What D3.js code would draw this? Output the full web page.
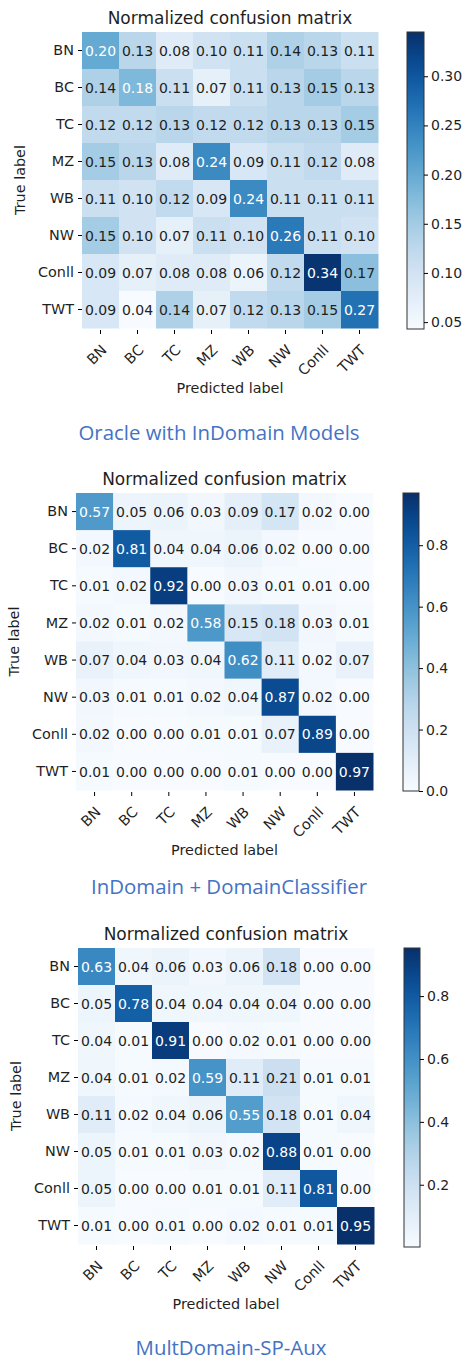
<!DOCTYPE html>
<html>
<head>
<meta charset="utf-8">
<script src="https://cdn.jsdelivr.net/npm/d3@7"></script>
<style>
  html, body { margin: 0; padding: 0; background: #ffffff; }
  svg { display: block; }
</style>
</head>
<body>
<svg id="chart" width="467" height="1362"></svg>
<script>
// ---------------- DATA ----------------
const categories = ["BN", "BC", "TC", "MZ", "WB", "NW", "Conll", "TWT"];

const oracleValues = [
  [0.20, 0.13, 0.08, 0.10, 0.11, 0.14, 0.13, 0.11],
  [0.14, 0.18, 0.11, 0.07, 0.11, 0.13, 0.15, 0.13],
  [0.12, 0.12, 0.13, 0.12, 0.12, 0.13, 0.13, 0.15],
  [0.15, 0.13, 0.08, 0.24, 0.09, 0.11, 0.12, 0.08],
  [0.11, 0.10, 0.12, 0.09, 0.24, 0.11, 0.11, 0.11],
  [0.15, 0.10, 0.07, 0.11, 0.10, 0.26, 0.11, 0.10],
  [0.09, 0.07, 0.08, 0.08, 0.06, 0.12, 0.34, 0.17],
  [0.09, 0.04, 0.14, 0.07, 0.12, 0.13, 0.15, 0.27]
];

const domainClassifierValues = [
  [0.57, 0.05, 0.06, 0.03, 0.09, 0.17, 0.02, 0.00],
  [0.02, 0.81, 0.04, 0.04, 0.06, 0.02, 0.00, 0.00],
  [0.01, 0.02, 0.92, 0.00, 0.03, 0.01, 0.01, 0.00],
  [0.02, 0.01, 0.02, 0.58, 0.15, 0.18, 0.03, 0.01],
  [0.07, 0.04, 0.03, 0.04, 0.62, 0.11, 0.02, 0.07],
  [0.03, 0.01, 0.01, 0.02, 0.04, 0.87, 0.02, 0.00],
  [0.02, 0.00, 0.00, 0.01, 0.01, 0.07, 0.89, 0.00],
  [0.01, 0.00, 0.00, 0.00, 0.01, 0.00, 0.00, 0.97]
];

const multDomainValues = [
  [0.63, 0.04, 0.06, 0.03, 0.06, 0.18, 0.00, 0.00],
  [0.05, 0.78, 0.04, 0.04, 0.04, 0.04, 0.00, 0.00],
  [0.04, 0.01, 0.91, 0.00, 0.02, 0.01, 0.00, 0.00],
  [0.04, 0.01, 0.02, 0.59, 0.11, 0.21, 0.01, 0.01],
  [0.11, 0.02, 0.04, 0.06, 0.55, 0.18, 0.01, 0.04],
  [0.05, 0.01, 0.01, 0.03, 0.02, 0.88, 0.01, 0.00],
  [0.05, 0.00, 0.00, 0.01, 0.01, 0.11, 0.81, 0.00],
  [0.01, 0.00, 0.01, 0.00, 0.02, 0.01, 0.01, 0.95]
];

const panelTitles = ["Normalized confusion matrix", "Normalized confusion matrix", "Normalized confusion matrix"];
const panelCaptions = ["Oracle with InDomain Models", "InDomain + DomainClassifier", "MultDomain-SP-Aux"];
const colorDomains = [[0.043, 0.345], [0.0, 0.97], [0.002, 0.953]];
const colorbarTicks = [
  [0.05, 0.10, 0.15, 0.20, 0.25, 0.30],
  [0.0, 0.2, 0.4, 0.6, 0.8],
  [0.2, 0.4, 0.6, 0.8]
];
const colorbarFormats = [".2f", ".1f", ".1f"];
const xAxisLabel = "Predicted label";
const yAxisLabel = "True label";

// ---------------- LAYOUT ----------------
const layouts = [
  { left: 82, top: 32, size: 296, cbX: 407, cbW: 17, cbTop: 32, cbH: 297, capX: 219, capY: 440 },
  { left: 76, top: 493, size: 297, cbX: 403, cbW: 16, cbTop: 493, cbH: 298, capX: 229, capY: 894 },
  { left: 78, top: 948, size: 296, cbX: 404, cbW: 16, cbTop: 948, cbH: 299, capX: 231, capY: 1355 }
];

const matrices = [oracleValues, domainClassifierValues, multDomainValues];
const FONT = "'DejaVu Sans', sans-serif";
const TXT = "#1f1f1f";
const svg = d3.select("#chart");
const defs = svg.append("defs");

matrices.forEach((matrix, p) => {
  const L = layouts[p];
  const g = svg.append("g");
  const color = d3.scaleSequential(d3.interpolateBlues).domain(colorDomains[p]);
  const thresh = colorDomains[p][1] / 2;

  const x = d3.scaleBand().domain(categories).range([L.left, L.left + L.size]);
  const y = d3.scaleBand().domain(categories).range([L.top, L.top + L.size]);

  const cells = [];
  matrix.forEach((row, i) => row.forEach((v, j) => cells.push({ r: categories[i], c: categories[j], v })));

  g.selectAll("rect.cell").data(cells).enter().append("rect")
    .attr("class", "cell")
    .attr("x", d => x(d.c))
    .attr("y", d => y(d.r))
    .attr("width", x.bandwidth() + 0.5)
    .attr("height", y.bandwidth() + 0.5)
    .attr("fill", d => color(d.v));

  g.selectAll("text.val").data(cells).enter().append("text")
    .attr("class", "val")
    .attr("x", d => x(d.c) + x.bandwidth() / 2)
    .attr("y", d => y(d.r) + y.bandwidth() / 2)
    .attr("dy", "0.37em")
    .attr("text-anchor", "middle")
    .attr("font-family", FONT)
    .attr("font-size", 14)
    .attr("fill", d => d.v > thresh ? "#ffffff" : TXT)
    .text(d => d3.format(".2f")(d.v));

  // Y axis
  const yAxis = d3.axisLeft(y).tickSize(4).tickPadding(4);
  const ya = g.append("g").attr("transform", `translate(${L.left},0)`).call(yAxis);
  ya.select(".domain").remove();
  ya.selectAll("text").attr("font-family", FONT).attr("font-size", 14.4).attr("fill", TXT);

  // X axis
  const xAxis = d3.axisBottom(x).tickSize(6).tickPadding(4);
  const xa = g.append("g").attr("transform", `translate(0,${L.top + L.size})`).call(xAxis);
  xa.select(".domain").remove();
  xa.selectAll(".tick line").attr("y1", 2);
  xa.selectAll("text")
    .attr("font-family", FONT).attr("font-size", 14.4).attr("fill", TXT)
    .attr("text-anchor", "end")
    .attr("dy", null)
    .attr("transform", "translate(7,23) rotate(-45)")
    .attr("y", 0).attr("x", 0);

  // Title
  g.append("text")
    .attr("x", L.left + L.size / 2)
    .attr("y", L.top - 8)
    .attr("text-anchor", "middle")
    .attr("font-family", FONT).attr("font-size", 17).attr("fill", TXT)
    .text(panelTitles[p]);

  // Axis labels
  g.append("text")
    .attr("x", L.left + L.size / 2)
    .attr("y", L.top + L.size + 65)
    .attr("text-anchor", "middle")
    .attr("font-family", FONT).attr("font-size", 14.4).attr("fill", TXT)
    .text(xAxisLabel);
  g.append("text")
    .attr("transform", `translate(${L.left - 57},${L.top + L.size / 2}) rotate(-90)`)
    .attr("text-anchor", "middle")
    .attr("font-family", FONT).attr("font-size", 14.4).attr("fill", TXT)
    .text(yAxisLabel);

  // Colorbar
  const gradId = "grad" + p;
  const grad = defs.append("linearGradient").attr("id", gradId)
    .attr("x1", "0").attr("y1", "1").attr("x2", "0").attr("y2", "0");
  d3.range(0, 1.0001, 0.05).forEach(t => {
    grad.append("stop").attr("offset", t).attr("stop-color", d3.interpolateBlues(t));
  });
  g.append("rect")
    .attr("x", L.cbX).attr("y", L.cbTop)
    .attr("width", L.cbW).attr("height", L.cbH)
    .attr("fill", `url(#${gradId})`)
    .attr("stroke", "#333").attr("stroke-width", 1);
  const cbScale = d3.scaleLinear().domain(colorDomains[p]).range([L.cbTop + L.cbH, L.cbTop]);
  const cbAxis = d3.axisRight(cbScale).tickValues(colorbarTicks[p])
    .tickFormat(d3.format(colorbarFormats[p])).tickSize(4).tickPadding(3);
  const ca = g.append("g").attr("transform", `translate(${L.cbX + L.cbW},0)`).call(cbAxis);
  ca.select(".domain").remove();
  ca.selectAll("text").attr("font-family", FONT).attr("font-size", 14).attr("fill", TXT);

  // Caption
  g.append("text")
    .attr("x", L.capX).attr("y", L.capY)
    .attr("text-anchor", "middle")
    .attr("font-family", "'Open Sans', sans-serif").attr("font-size", 20.4)
    .attr("fill", "#4472C4")
    .text(panelCaptions[p]);
});
</script>
</body>
</html>
